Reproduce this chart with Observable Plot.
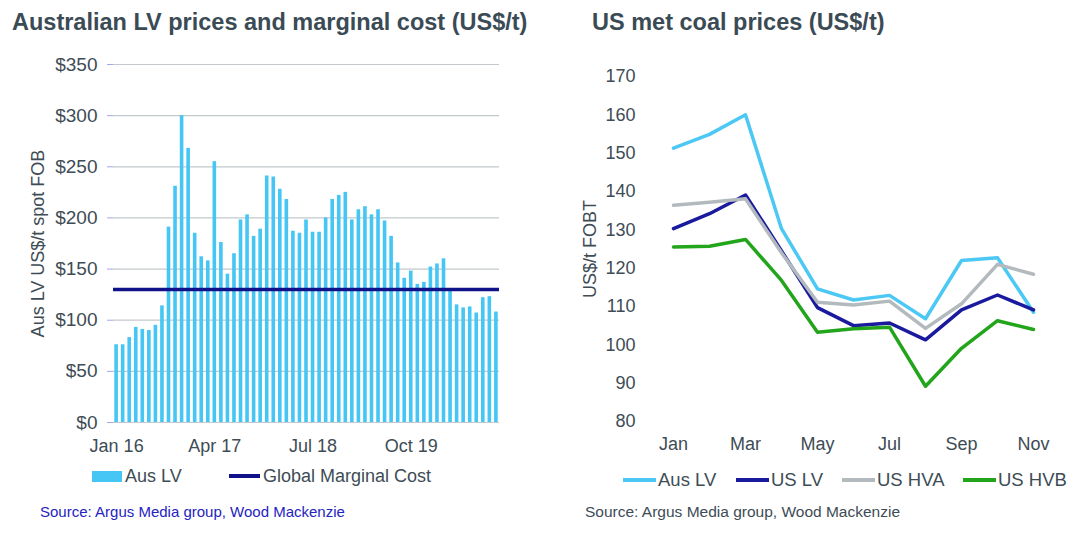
<!DOCTYPE html>
<html>
<head>
<meta charset="utf-8">
<script src="https://cdn.jsdelivr.net/npm/d3@7"></script>
<script src="https://cdn.jsdelivr.net/npm/@observablehq/plot@0.6"></script>
<style>
  html, body { margin: 0; padding: 0; background: #fff; }
  body { width: 1080px; height: 534px; position: relative; overflow: hidden;
         font-family: "Liberation Sans", Arial, sans-serif; color: #3e4c55; }
  .abs { position: absolute; white-space: nowrap; }
  .title { font-weight: bold; font-size: 23.5px; line-height: 24px; color: #3b4b55; }
  .leg { font-size: 18px; line-height: 20px; display: flex; align-items: center; }
  .src { font-size: 15px; line-height: 18px; }
  #left, #right { position: absolute; top: 50px; }
  #left { left: 0; } #right { left: 540px; }
</style>
</head>
<body>
<div class="abs title" style="left:12px; top:10px;">Australian LV prices and marginal cost (US$/t)</div>
<div class="abs title" style="left:592px; top:10px;">US met coal prices (US$/t)</div>
<div id="left"></div>
<div id="right"></div>
<div class="abs leg" style="left:92px; top:466px;"><span style="display:inline-block;width:30px;height:11px;background:#45c6f5;margin-right:3px;"></span>Aus LV</div>
<div class="abs leg" style="left:229px; top:466px;"><span style="display:inline-block;width:31px;height:4px;background:#10128a;margin-right:3px;"></span>Global Marginal Cost</div>
<div class="abs src" style="left:40px; top:503px; color:#2424c0;">Source: Argus Media group, Wood Mackenzie</div>
<div id="rleg"></div>
<div class="abs src" style="left:585px; top:503px; font-size:15.5px; color:#3e4c55;">Source: Argus Media group, Wood Mackenzie</div>
<script>
// ---------- Left chart data ----------
const ausMonths = [
  "Jan 16","Feb 16","Mar 16","Apr 16","May 16","Jun 16","Jul 16","Aug 16","Sep 16","Oct 16","Nov 16","Dec 16",
  "Jan 17","Feb 17","Mar 17","Apr 17","May 17","Jun 17","Jul 17","Aug 17","Sep 17","Oct 17","Nov 17","Dec 17",
  "Jan 18","Feb 18","Mar 18","Apr 18","May 18","Jun 18","Jul 18","Aug 18","Sep 18","Oct 18","Nov 18","Dec 18",
  "Jan 19","Feb 19","Mar 19","Apr 19","May 19","Jun 19","Jul 19","Aug 19","Sep 19","Oct 19","Nov 19","Dec 19",
  "Jan 20","Feb 20","Mar 20","Apr 20","May 20","Jun 20","Jul 20","Aug 20","Sep 20","Oct 20","Nov 20"
];
const ausLVSpot = [
  76, 76, 83, 93, 91, 90, 95, 114, 191, 231, 300, 268,
  185, 162, 158, 255, 176, 145, 165, 198, 203, 182, 189, 241,
  240, 228, 218, 187, 185, 198, 186, 186, 200, 218, 222, 225,
  198, 208, 211, 203, 208, 197, 182, 156, 141, 148, 135, 137,
  152, 155, 160, 130, 115, 112, 113, 107, 122, 123, 108
];
const globalMarginalCost = 130;
const leftYTicks = [0, 50, 100, 150, 200, 250, 300, 350];
const leftXTicks = ["Jan 16", "Apr 17", "Jul 18", "Oct 19"];
const leftYLabel = "Aus LV US$/t spot FOB";

// ---------- Right chart data ----------
const usMonths = ["Jan","Feb","Mar","Apr","May","Jun","Jul","Aug","Sep","Oct","Nov"];
const seriesNames = ["Aus LV", "US LV", "US HVA", "US HVB"];
const seriesColors = ["#4cc8f4", "#1a1a9e", "#b3babe", "#22a51b"];
const ausLV = [151.3, 154.9, 160.0, 130.3, 114.6, 111.7, 112.9, 106.8, 122.0, 122.7, 108.5];
const usLV  = [130.3, 134.2, 139.1, 124.5, 109.7, 105.0, 105.7, 101.3, 109.1, 113.0, 109.1];
const usHVA = [136.4, 137.2, 138.1, 124.0, 111.1, 110.4, 111.4, 104.3, 110.7, 121.0, 118.4];
const usHVB = [125.5, 125.7, 127.5, 116.8, 103.3, 104.2, 104.6, 89.2, 99.1, 106.3, 104.0];
const rightYTicks = [80, 90, 100, 110, 120, 130, 140, 150, 160, 170];
const rightXTicks = ["Jan", "Mar", "May", "Jul", "Sep", "Nov"];
const rightYLabel = "US$/t FOBT";

const textColor = "#3e4c55";
const fontFamily = '"Liberation Sans", Arial, sans-serif';

// ---------- Left chart ----------
const barData = ausMonths.map((m, i) => ({month: m, value: ausLVSpot[i]}));
const left = Plot.plot({
  width: 540, height: 410,
  marginLeft: 113, marginRight: 41, marginTop: 14, marginBottom: 38,
  style: {fontFamily, fontSize: "18px", color: textColor, background: "transparent"},
  x: {type: "band", domain: ausMonths, paddingInner: 0.45, paddingOuter: 0.2},
  y: {domain: [0, 350]},
  marks: [
    Plot.gridY(leftYTicks, {stroke: "#c3c9cc", strokeOpacity: 1, strokeWidth: 1.2}),
    Plot.barY(barData, {x: "month", y: "value", fill: "#45c6f5"}),
    Plot.ruleY([globalMarginalCost], {stroke: "#10128a", strokeWidth: 3.5}),
    Plot.axisY({ticks: leftYTicks, tickFormat: d => "$" + d, tickSize: 6, tickPadding: 10,
                stroke: "#a4a4ee", strokeOpacity: 1, line: true, label: null, fill: textColor, fontSize: 19}),
    Plot.axisX({ticks: leftXTicks, tickSize: 0, tickPadding: 17, line: true,
                stroke: "#a4a4ee", strokeOpacity: 1, label: null, fill: textColor}),
    Plot.text([leftYLabel], {frameAnchor: "left", textAnchor: "middle", rotate: -90, dx: -75,
                             fill: textColor, fontSize: 18})
  ]
});
document.getElementById("left").appendChild(left);

// ---------- Right chart ----------
const seriesValues = [ausLV, usLV, usHVA, usHVB];
const lineData = seriesNames.flatMap((s, k) =>
  usMonths.map((m, i) => ({series: s, month: m, value: seriesValues[k][i]})));
const right = Plot.plot({
  width: 540, height: 410,
  marginLeft: 112, marginRight: 27, marginTop: 26, marginBottom: 39,
  style: {fontFamily, fontSize: "18px", color: textColor, background: "transparent"},
  x: {type: "point", domain: usMonths, padding: 0.5},
  y: {domain: [80, 170]},
  color: {domain: seriesNames, range: seriesColors},
  marks: [
    Plot.line(lineData, {x: "month", y: "value", z: "series", stroke: "series", strokeWidth: 3.5}),
    Plot.axisY({ticks: rightYTicks, tickSize: 0, tickPadding: 17, line: true,
                stroke: "#5d666c", strokeOpacity: 1, label: null, fill: textColor}),
    Plot.axisX({ticks: rightXTicks, tickSize: 0, tickPadding: 16, line: true,
                stroke: "#5d666c", strokeOpacity: 1, label: null, fill: textColor}),
    Plot.text([rightYLabel], {frameAnchor: "left", textAnchor: "middle", rotate: -90, dx: -62,
                              fill: textColor, fontSize: 18})
  ]
});
document.getElementById("right").appendChild(right);

// ---------- Right legend ----------
const legendX = [623, 736, 842, 963];
const rleg = document.getElementById("rleg");
seriesNames.forEach((s, k) => {
  const d = document.createElement("div");
  d.className = "abs leg";
  d.style.left = legendX[k] + "px";
  d.style.top = "470px";
  d.style.fontSize = "18.5px";
  d.innerHTML = `<span style="display:inline-block;width:33px;height:4px;background:${seriesColors[k]};margin-right:2px;"></span>${s}`;
  rleg.appendChild(d);
});
</script>
</body>
</html>
